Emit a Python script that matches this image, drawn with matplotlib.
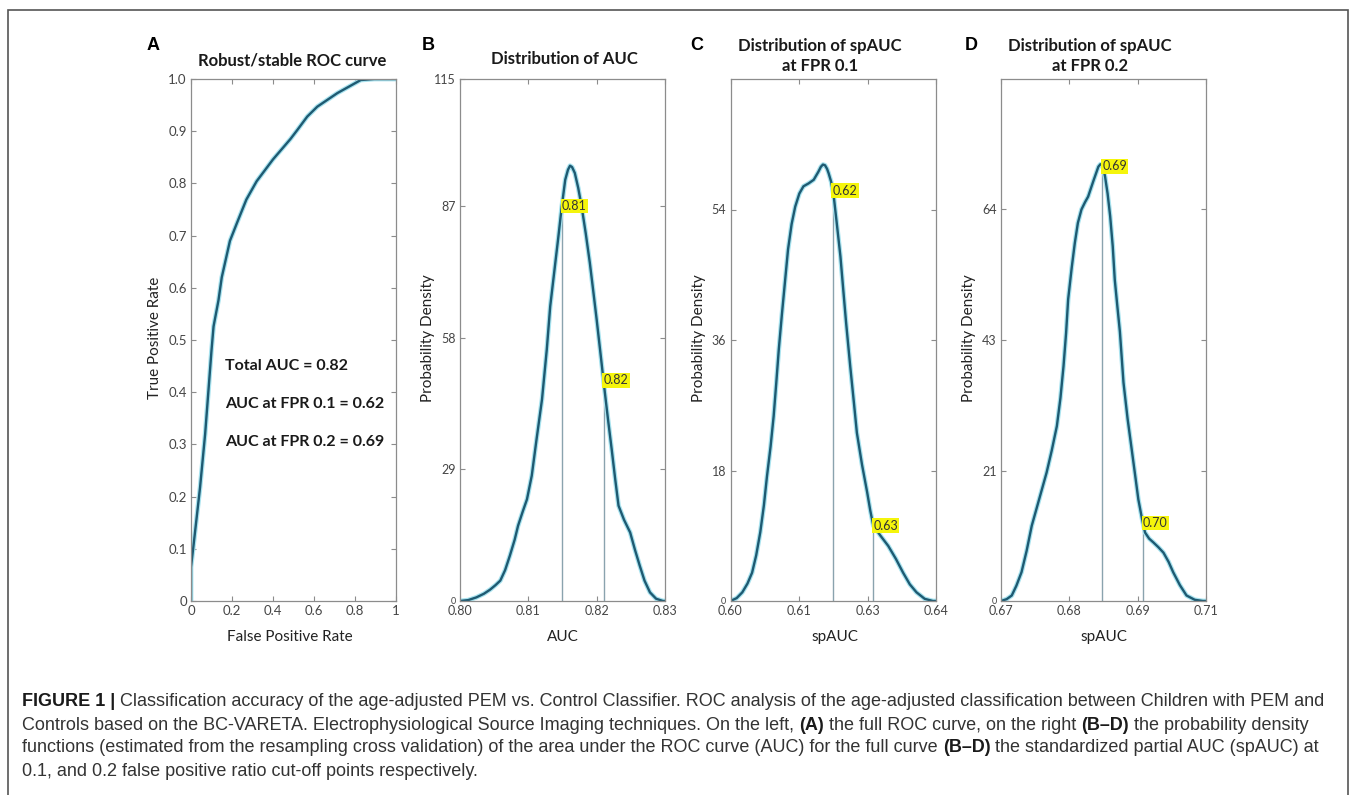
import numpy as np
import matplotlib
matplotlib.use("Agg")
import matplotlib.pyplot as plt
from matplotlib.patches import Rectangle

W, H = 1357, 795

# ROC curve (panel A)
roc_fpr = [0, 0, 0.011, 0.044, 0.069, 0.10, 0.11, 0.134, 0.15, 0.19, 0.224, 0.27,
           0.32, 0.40, 0.485, 0.518, 0.567, 0.616, 0.714, 0.828, 0.894, 1.0]
roc_tpr = [0, 0.065, 0.102, 0.217, 0.32, 0.48, 0.526, 0.576, 0.62, 0.69, 0.724, 0.769,
           0.804, 0.846, 0.885, 0.902, 0.928, 0.947, 0.973, 0.998, 1.0, 1.0]
roc_text = ["Total AUC = 0.82", "AUC at FPR 0.1 = 0.62", "AUC at FPR 0.2 = 0.69"]

# density of AUC (panel B)
auc_x = [0.8000, 0.8012, 0.8024, 0.8035, 0.8044, 0.8052, 0.8059, 0.8066, 0.8073, 0.8080,
         0.8085, 0.8092, 0.8098, 0.8105, 0.8112, 0.8120, 0.8127, 0.8132, 0.8138, 0.8144,
         0.8149, 0.8154, 0.8158, 0.8161, 0.8164, 0.8168, 0.8173, 0.8178, 0.8184, 0.8190,
         0.8195, 0.8200, 0.8206, 0.8212, 0.8217, 0.8222, 0.8227, 0.8232, 0.8240, 0.8249,
         0.8256, 0.8263, 0.8270, 0.8278, 0.8287, 0.8297, 0.8300]
auc_y = [0, 0.2, 0.8, 1.6, 2.5, 3.5, 4.5, 6.8, 10, 13.5, 16.6, 19.8, 22.4, 27.6, 35.6, 44.4,
         55.4, 64.9, 72.6, 80.3, 87, 92.8, 95.0, 95.9, 95.6, 94.3, 91.0, 86.9, 81, 74.5,
         68.3, 62, 54, 45.9, 39.5, 33.4, 27.0, 21, 17.9, 15.1, 11.3, 7.8, 4.5, 1.9, 0.5, 0, 0]
auc_marks = [0.8149, 0.8210]
auc_mark_lbl = ["0.81", "0.82"]

# density of spAUC at FPR 0.1 (panel C)
sp1_x = [0.6000, 0.6012, 0.6023, 0.6033, 0.6042, 0.6050, 0.6058, 0.6065, 0.6071, 0.6078,
         0.6084, 0.6089, 0.6094, 0.6100, 0.6106, 0.6112, 0.6119, 0.6126, 0.6134, 0.6142,
         0.6152, 0.6162, 0.6171, 0.6176, 0.6180, 0.6184, 0.6188, 0.6191, 0.6196, 0.6201,
         0.6207, 0.6214, 0.6220, 0.6225, 0.6233, 0.6240, 0.6246, 0.6256, 0.6266, 0.6272,
         0.6278, 0.6292, 0.6307, 0.6322, 0.6336, 0.6349, 0.6362, 0.6378, 0.6394, 0.6400]
sp1_y = [0, 0.4, 1.2, 2.4, 3.9, 6.3, 9.5, 13.2, 17.2, 21.3, 25.5, 30.0, 34.7, 39.5, 44.0,
         48.5, 52.0, 54.4, 56.2, 57.2, 57.6, 58.1, 59.2, 59.9, 60.2, 60.1, 59.6, 59.0, 57.8,
         55.8, 52.0, 47.5, 42.5, 38.4, 32.4, 27.5, 23.2, 18.8, 15, 12.5, 10.4, 9.0, 7.6, 5.8,
         3.9, 2.3, 1.2, 0.3, 0, 0]
sp1_marks = [0.6199, 0.6278]
sp1_mark_lbl = ["0.62", "0.63"]

# density of spAUC at FPR 0.2 (panel D)
sp2_x = [0.6700, 0.6711, 0.6721, 0.6730, 0.6740, 0.6750, 0.6760, 0.6775, 0.6789, 0.6799,
         0.6809, 0.6816, 0.6822, 0.6827, 0.6831, 0.6838, 0.6844, 0.6850, 0.6857, 0.6864,
         0.6870, 0.6880, 0.6890, 0.6894, 0.6897, 0.6900, 0.6903, 0.6908, 0.6913, 0.6918,
         0.6922, 0.6927, 0.6932, 0.6939, 0.6947, 0.6955, 0.6962, 0.6968, 0.6975, 0.6981,
         0.6989, 0.6997, 0.7007, 0.7017, 0.7027, 0.7036, 0.7049, 0.7062, 0.7078, 0.7094, 0.7100]
sp2_y = [0, 0.3, 0.9, 2.5, 4.7, 8.2, 12.3, 16.8, 21, 24.6, 28.6, 33.2, 38.4, 43.8, 49.3,
         54.5, 58.5, 61.8, 64, 65.2, 66.1, 68.6, 71, 71.4, 71.3, 70.6, 69.4, 66.6, 62.9, 58,
         52.5, 48.2, 44, 35.7, 29.8, 24.8, 20.4, 16.6, 13.5, 11.2, 10.2, 9.6, 8.8, 7.9, 6.4,
         4.7, 2.6, 0.9, 0.2, 0, 0]
sp2_marks = [0.6898, 0.6977]
sp2_mark_lbl = ["0.69", "0.70"]

# axis ranges / ticks
b_xlim, b_ylim = (0.80, 0.83), (0, 115)
b_xtl = ["0.80", "0.81", "0.82", "0.83"]
b_yt, b_ytl = [0, 29, 58, 87, 115], ["0", "29", "58", "87", "115"]
c_xlim, c_ylim = (0.60, 0.64), (0, 72)
c_xtl = ["0.60", "0.61", "0.63", "0.64"]
c_yt, c_ytl = [0, 18, 36, 54], ["0", "18", "36", "54"]
d_xlim, d_ylim = (0.67, 0.71), (0, 85.33)
d_xtl = ["0.67", "0.68", "0.69", "0.71"]
d_yt, d_ytl = [0, 21.33, 42.67, 64], ["0", "21", "43", "64"]

CURVE = "#1e5a72"
HALO = "#a9e3ef"
VLINE = "#8aa3ae"
SPINE = "#8c8c8c"
TXT = "#454545"
FONT = ["Lato", "DejaVu Sans"]

plt.rcParams["font.family"] = FONT

fig = plt.figure(figsize=(W / 100, H / 100), dpi=100)


def px(x, y):
    return x / W, 1 - y / H


def box(left, right, top=79, bottom=601):
    return [left / W, 1 - bottom / H, (right - left) / W, (bottom - top) / H]


def style(ax, size=9):
    for s in ax.spines.values():
        s.set_color(SPINE)
        s.set_linewidth(0.9)
    ax.tick_params(direction="in", length=3.5, width=0.8, color=SPINE,
                   top=True, right=True, labelsize=size, labelcolor=TXT, pad=3)


def curve(ax, x, y):
    ax.plot(x, y, color=HALO, lw=3.4, solid_capstyle="round", solid_joinstyle="round")
    ax.plot(x, y, color=CURVE, lw=1.7, solid_joinstyle="round")


def density(ax, x, y, marks, lbls, xlim, ylim, xtl, yt, ytl):
    curve(ax, x, y)
    for m, lb in zip(marks, lbls):
        h = np.interp(m, x, y)
        ax.plot([m, m], [0, h], color=VLINE, lw=1.0, zorder=1)
        ax.text(m, h, lb, fontsize=9, color="#333333", ha="left", va="center",
                bbox=dict(boxstyle="square,pad=0.1", fc="#f5f50c", ec="none"), zorder=5)
    ax.set_xlim(*xlim)
    ax.set_ylim(*ylim)
    ax.set_xticks(np.linspace(xlim[0], xlim[1], 4))
    ax.set_xticklabels(xtl)
    ax.set_yticks(yt)
    ax.set_yticklabels(ytl)
    style(ax)
    ax.get_yticklabels()[0].set_fontsize(6.5)


# Panel A
axA = fig.add_axes(box(191, 396))
curve(axA, roc_fpr, roc_tpr)
axA.set_xlim(0, 1)
axA.set_ylim(0, 1)
axA.set_xticks([0, 0.2, 0.4, 0.6, 0.8, 1])
axA.set_xticklabels(["0", "0.2", "0.4", "0.6", "0.8", "1"])
axA.set_yticks(np.arange(0, 11) / 10)
axA.set_yticklabels(["0"] + ["%.1f" % (v / 10) for v in range(1, 11)])
style(axA, 9.5)
for i, t in enumerate(roc_text):
    axA.text(0.166, 0.450 - i * 0.0728, t, fontsize=11.5, fontweight="bold", color="#1a1a1a",
             transform=axA.transAxes, va="center")

axB = fig.add_axes(box(460, 665))
density(axB, auc_x, auc_y, auc_marks, auc_mark_lbl, b_xlim, b_ylim, b_xtl, b_yt, b_ytl)
axC = fig.add_axes(box(730.5, 936))
density(axC, sp1_x, sp1_y, sp1_marks, sp1_mark_lbl, c_xlim, c_ylim, c_xtl, c_yt, c_ytl)
axD = fig.add_axes(box(1001, 1206))
density(axD, sp2_x, sp2_y, sp2_marks, sp2_mark_lbl, d_xlim, d_ylim, d_xtl, d_yt, d_ytl)

# panel letters, titles and axis labels
letters = [("A", 147), ("B", 422), ("C", 690), ("D", 965)]
for s, x in letters:
    fig.text(*px(x, 46), s, fontsize=13, fontweight="bold", va="center", ha="left",
             family=["Liberation Sans", "DejaVu Sans"])

titles = [("Robust/stable ROC curve", 292, 60), ("Distribution of AUC", 564, 59),
          ("Distribution of spAUC\nat FPR 0.1", 820, 56), ("Distribution of spAUC\nat FPR 0.2", 1090, 56)]
for s, x, y in titles:
    fig.text(*px(x, y), s, fontsize=12, fontweight="bold", ha="center", va="center",
             color="#1a1a1a", linespacing=1.33)

xlabels = [("False Positive Rate", 290), ("AUC", 563), ("spAUC", 835), ("spAUC", 1104)]
for s, x in xlabels:
    fig.text(*px(x, 637), s, fontsize=11, ha="center", va="center", color="#222222")
ylabels = [("True Positive Rate", 155), ("Probability Density", 428),
           ("Probability Density", 699), ("Probability Density", 969)]
for s, x in ylabels:
    fig.text(*px(x, 338), s, fontsize=11, ha="center", va="center", rotation=90, color="#222222")

# frame around the figure
fig.add_artist(Rectangle((8 / W, -0.02), (1348 - 8) / W, 1.02 - 10 / H, transform=fig.transFigure,
                         fill=False, ec="#555555", lw=1.2))

# caption
cap_font = ["Liberation Sans", "DejaVu Sans"]
caption = [
    [("FIGURE 1 |", True), (" Classification accuracy of the age-adjusted PEM vs. Control Classifier. "
     "ROC analysis of the age-adjusted classification between Children with PEM and", False)],
    [("Controls based on the BC-VARETA. Electrophysiological Source Imaging techniques. On the left, ", False),
     ("(A)", True), (" the full ROC curve, on the right ", False), ("(B\u2013D)", True),
     (" the probability density", False)],
    [("functions (estimated from the resampling cross validation) of the area under the ROC curve (AUC) "
      "for the full curve ", False), ("(B\u2013D)", True),
     (" the standardized partial AUC (spAUC) at", False)],
    [("0.1, and 0.2 false positive ratio cut-off points respectively.", False)],
]
renderer = fig.canvas.get_renderer()
for i, runs in enumerate(caption):
    x = 22
    y = 702 + i * 23
    for s, bold in runs:
        t = fig.text(*px(x, y), s, fontsize=13, family=cap_font, va="center", ha="left",
                     fontweight="bold" if bold else "normal",
                     color="#1a1a1a" if bold else "#333333")
        bb = t.get_window_extent(renderer=renderer)
        x = bb.x1

fig.savefig("out.png", dpi=100)
